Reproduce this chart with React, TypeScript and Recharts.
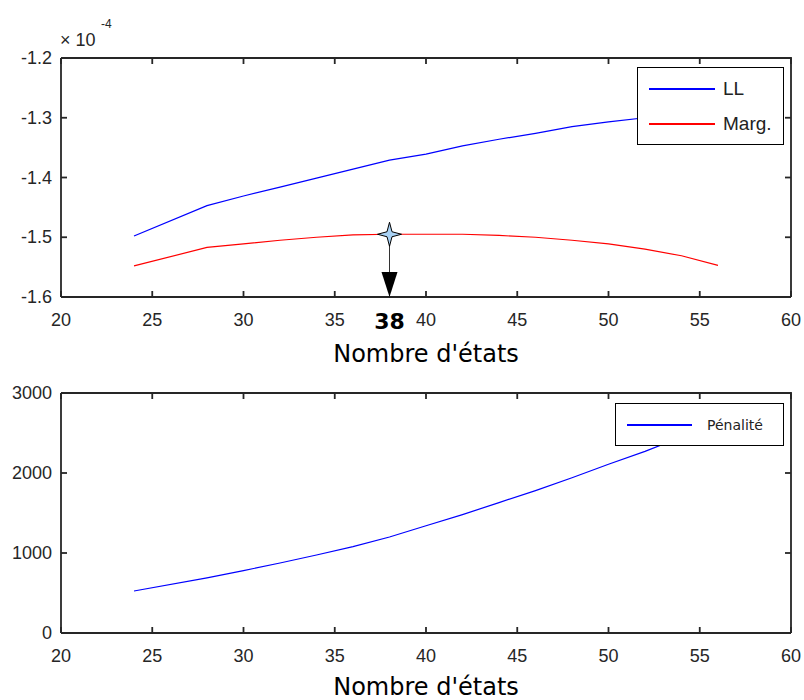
import { LineChart, Line, XAxis, YAxis, Legend, ReferenceDot, ReferenceLine } from "recharts";

// nombre d'états testés
const states = [24, 28, 30, 32, 34, 36, 38, 40, 42, 44, 46, 48, 50, 52, 54, 56];
// log-vraisemblance et vraisemblance marginale (x 10^-4)
const ll = [-1.498, -1.447, -1.431, -1.416, -1.401, -1.386, -1.371, -1.361, -1.347, -1.336, -1.326, -1.315, -1.307, -1.3, -1.294, -1.288];
const marg = [-1.548, -1.517, -1.511, -1.505, -1.5, -1.496, -1.495, -1.495, -1.495, -1.497, -1.5, -1.505, -1.511, -1.52, -1.531, -1.547];
const penalite = [525, 690, 780, 875, 975, 1080, 1200, 1340, 1480, 1630, 1780, 1940, 2110, 2270, 2450, 2630];

const xTicks = [20, 25, 30, 35, 40, 45, 50, 55, 60];
const topTicks = [-1.6, -1.5, -1.4, -1.3, -1.2];
const bottomTicks = [0, 1000, 2000, 3000];
const bestStates = 38;

const topData = states.map((s, i) => ({ s, ll: ll[i], marg: marg[i] }));
const bottomData = states.map((s, i) => ({ s, pen: penalite[i] }));
const bestMarg = marg[states.indexOf(bestStates)];

const AXIS = "#262626";
const SW = 1.8;
const W = 730; // largeur de la zone de tracé
const axisTitle = { fontFamily: "DejaVu Sans", fontSize: 24, fill: "#000" };

// matlab-style box: ticks inside, on all four sides
const makeXTick = (h: number) => (p: any) => {
  const { x, y, payload, index } = p;
  return (
    <g>
      {index === 0 && <path d={`M${x},${y - h} H${x + W} V${y}`} fill="none" stroke={AXIS} strokeWidth={SW} />}
      <path d={`M${x},${y} V${y - 6}`} stroke={AXIS} strokeWidth={SW} />
      <path d={`M${x},${y - h} V${y - h + 6}`} stroke={AXIS} strokeWidth={SW} />
      <text x={x} y={y + 29} textAnchor="middle" fontFamily="Liberation Sans" fontSize={18} fill={AXIS}>{payload.value}</text>
    </g>
  );
};
const makeYTick = (fmt: (v: number) => string) => (p: any) => {
  const { x, y, payload } = p;
  return (
    <g>
      <path d={`M${x},${y} H${x + 6}`} stroke={AXIS} strokeWidth={SW} />
      <path d={`M${x + W - 6},${y} H${x + W}`} stroke={AXIS} strokeWidth={SW} />
      <text x={x - 9} y={y + 6} textAnchor="end" fontFamily="Liberation Sans" fontSize={18} fill={AXIS}>{fmt(payload.value)}</text>
    </g>
  );
};

function BoxLegend(props: any) {
  const { payload, rows, lineFrom, lineTo, textX, font } = props;
  return (
    <div style={{ position: "relative", width: "100%", height: "100%", boxSizing: "border-box", border: "1.5px solid #000", background: "#fff" }}>
      {(payload || []).map((p: any, i: number) => (
        <div key={p.value}>
          <div style={{ position: "absolute", left: lineFrom, top: rows[i] - 1, width: lineTo - lineFrom, height: 1.5, background: p.color }} />
          <div style={{ position: "absolute", left: textX, top: rows[i] - 12, height: 24, lineHeight: "24px", whiteSpace: "nowrap", ...font }}>{p.value}</div>
        </div>
      ))}
    </div>
  );
}

function Star(props: any) {
  const { cx, cy } = props;
  const d = `M${cx},${cy - 12} L${cx + 2.5},${cy - 2.5} L${cx + 12},${cy} L${cx + 2.5},${cy + 2.5} L${cx},${cy + 12} L${cx - 2.5},${cy + 2.5} L${cx - 12},${cy} L${cx - 2.5},${cy - 2.5} Z`;
  return <path d={d} fill="#a9d2f5" stroke="#000" strokeWidth={1} />;
}

function ArrowHead(props: any) {
  const { cx, cy } = props;
  return (
    <g>
      <path d={`M${cx - 8},${cy - 25} L${cx + 8},${cy - 25} L${cx},${cy} Z`} fill="#000" />
      <text x={cx} y={cy + 24} textAnchor="middle" dominantBaseline="central" fontFamily="DejaVu Sans" fontWeight="bold" fontSize={22} fill="#000">
        {bestStates}
      </text>
    </g>
  );
}

export default function App() {
  return (
    <div style={{ position: "absolute", left: 0, top: 0, width: 804, height: 700, background: "#fff" }}>
      <div style={{ position: "absolute", left: 60, top: 31, fontFamily: "Liberation Sans", fontSize: 18, color: AXIS, lineHeight: "18px" }}>× 10</div>
      <div style={{ position: "absolute", left: 101, top: 18, fontFamily: "Liberation Sans", fontSize: 12, color: AXIS, lineHeight: "12px" }}>-4</div>

      <div style={{ position: "absolute", left: 0, top: 0 }}>
        <LineChart width={804} height={370} data={topData} margin={{ top: 58, right: 13, bottom: 33, left: 0 }}>
          <XAxis dataKey="s" type="number" domain={[20, 60]} ticks={xTicks} tick={makeXTick(239)} tickLine={false} tickSize={0} tickMargin={0} height={40}
            axisLine={{ stroke: AXIS, strokeWidth: SW }} interval={0}
            label={{ value: "Nombre d'états", position: "bottom", offset: 8, ...axisTitle }} />
          <YAxis type="number" domain={[-1.6, -1.2]} ticks={topTicks} tick={makeYTick((v) => v.toFixed(1))} tickLine={false} tickSize={0} tickMargin={0} width={61}
            axisLine={{ stroke: AXIS, strokeWidth: SW }} interval={0} />
          <Line dataKey="ll" name="LL" stroke="#0000ff" strokeWidth={1.2} dot={false} type="linear" isAnimationActive={false} />
          <Line dataKey="marg" name="Marg." stroke="#ff0000" strokeWidth={1.2} dot={false} type="linear" isAnimationActive={false} />
          <ReferenceLine segment={[{ x: bestStates, y: bestMarg }, { x: bestStates, y: -1.6 }]} stroke="#333" strokeWidth={1} ifOverflow="visible" />
          <ReferenceDot x={bestStates} y={-1.6} shape={ArrowHead} ifOverflow="visible" />
          <ReferenceDot x={bestStates} y={bestMarg} shape={Star} ifOverflow="visible" />
          <Legend layout="vertical" align="center" verticalAlign="middle"
            wrapperStyle={{ left: 637, top: 67, width: 147, height: 78 }}
            content={(p: any) => (
              <BoxLegend {...p} rows={[21, 56]} lineFrom={11} lineTo={77} textX={85}
                font={{ fontFamily: "Liberation Sans", fontSize: 19, color: "#222" }} />
            )} />
        </LineChart>
      </div>

      <div style={{ position: "absolute", left: 0, top: 335 }}>
        <LineChart width={804} height={365} data={bottomData} margin={{ top: 58, right: 13, bottom: 27, left: 0 }}>
          <XAxis dataKey="s" type="number" domain={[20, 60]} ticks={xTicks} tick={makeXTick(240)} tickLine={false} tickSize={0} tickMargin={0} height={40}
            axisLine={{ stroke: AXIS, strokeWidth: SW }} interval={0}
            label={{ value: "Nombre d'états", position: "bottom", offset: 5, ...axisTitle }} />
          <YAxis type="number" domain={[0, 3000]} ticks={bottomTicks} tick={makeYTick((v) => String(v))} tickLine={false} tickSize={0} tickMargin={0} width={61}
            axisLine={{ stroke: AXIS, strokeWidth: SW }} interval={0} />
          <Line dataKey="pen" name="Pénalité" stroke="#0000ff" strokeWidth={1.2} dot={false} type="linear" isAnimationActive={false} />
          <Legend layout="vertical" align="center" verticalAlign="middle"
            wrapperStyle={{ left: 615, top: 68, width: 169, height: 43 }}
            content={(p: any) => (
              <BoxLegend {...p} rows={[21]} lineFrom={11} lineTo={76} textX={91}
                font={{ fontFamily: "DejaVu Sans", fontSize: 14, color: "#222" }} />
            )} />
        </LineChart>
      </div>
    </div>
  );
}
